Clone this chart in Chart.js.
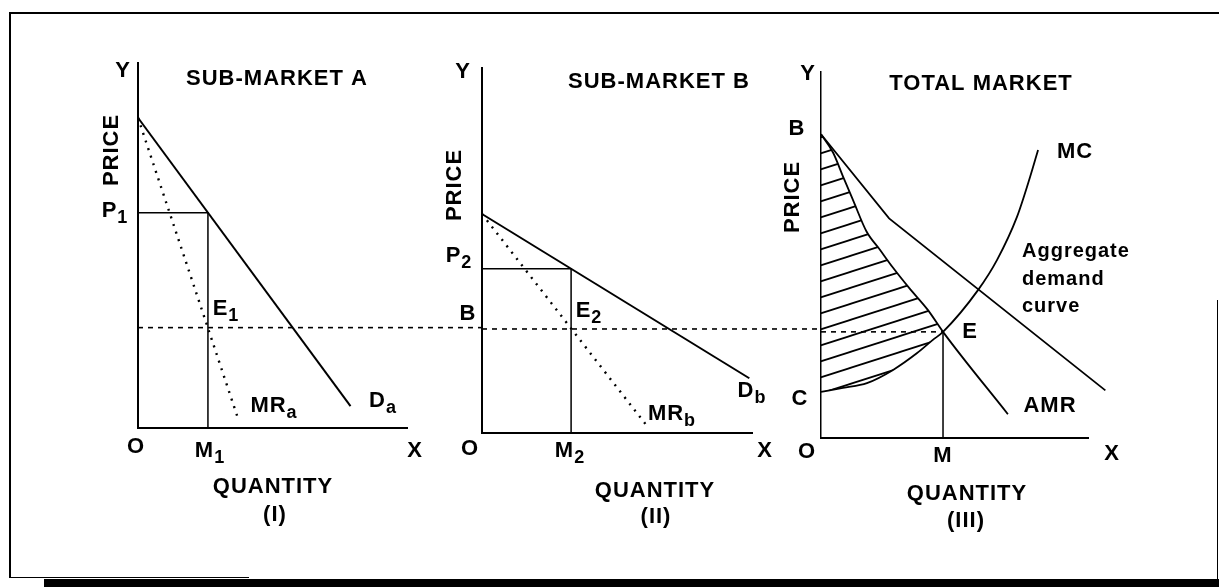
<!DOCTYPE html>
<html lang="en">
<head>
<meta charset="UTF-8">
<title>Price discrimination: sub-markets and total market</title>
<script src="https://cdn.jsdelivr.net/npm/chart.js@4/dist/chart.umd.min.js"></script>
<style>
  html, body { margin: 0; padding: 0; background: #fff; }
  body { width: 1219px; height: 587px; position: relative; overflow: hidden; }
  canvas { position: absolute; left: 0; top: 0; }
  .rule { position: absolute; background: #000; }
</style>
</head>
<body>
<!-- scanned page frame -->
<div class="rule" style="left:9px; top:12px; width:1210px; height:2px"></div>
<div class="rule" style="left:9px; top:12px; width:2px; height:566px"></div>
<div class="rule" style="left:9px; top:577px; width:240px; height:1px"></div>
<div class="rule" style="left:1217px; top:300px; width:1px; height:280px"></div>
<div class="rule" style="left:44px; top:579px; width:1175px; height:8px"></div>

<canvas id="panelA" width="1219" height="587"></canvas>
<canvas id="panelB" width="1219" height="587"></canvas>
<canvas id="panelT" width="1219" height="587"></canvas>

<script>
// ---- data (axis units 0..10 on both axes of every panel) ----

// (I) sub-market A
const demandA = [[0, 8.5], [7.9, 0.6]];
const mrA = [[0, 8.5], [3.7, 0.3]];
const priceA = 5.9;      // P1
const qtyA = 2.6;        // M1
const mcLevelA = 2.75;   // E1

// (II) sub-market B
const demandB = [[0, 6.0], [9.9, 1.5]];
const mrB = [[0, 6.0], [6.05, 0.25]];
const priceB = 4.5;      // P2
const qtyB = 3.3;        // M2
const mcLevelB = 2.85;   // E2 / B

// (III) total market
const aggDemand = [[0, 8.3], [2.55, 6.0], [10.65, 1.3]];
const amr = [[0, 8.3], [0.45, 7.8], [0.85, 7.1], [1.2, 6.5], [1.7, 5.65], [2.2, 5.15],
             [2.7, 4.65], [3.3, 4.1], [4.0, 3.5], [4.57, 2.9], [7.0, 0.65]];
const mc = [[0, 1.26], [0.82, 1.37], [1.72, 1.5], [2.7, 1.86], [3.6, 2.32], [4.19, 2.68],
            [4.57, 2.9], [5.88, 4.04], [6.59, 4.86], [7.34, 6.04], [7.83, 7.13], [8.13, 7.87]];
const qtyTotal = 4.57;   // M
const mcLevel = 2.9;     // E

// ---- drawing ----
const W = 1219, H = 587;
const FONT = '"Liberation Sans", Arial, Helvetica, sans-serif';

// plain text labels, placed in px relative to the panel origin O
const textPlugin = {
  id: 'sketchText',
  afterDatasetsDraw(chart, args, opts) {
    const { ctx, chartArea } = chart;
    const ox = chartArea.left, oy = chartArea.bottom;
    ctx.save();
    ctx.fillStyle = '#000';
    ctx.letterSpacing = '1px';
    for (const t of opts.items || []) {
      const x = ox + t.dx, y = oy + t.dy;
      const main = 'bold ' + (t.size || 22) + 'px ' + FONT;
      const small = 'bold 18px ' + FONT;
      ctx.font = main;
      if (t.rotate) {
        ctx.save();
        ctx.translate(x, y);
        ctx.rotate(-Math.PI / 2);
        ctx.textAlign = 'center';
        ctx.textBaseline = 'middle';
        ctx.fillText(t.text, 0, 0);
        ctx.restore();
        continue;
      }
      ctx.textAlign = 'left';
      ctx.textBaseline = 'alphabetic';
      const mainW = ctx.measureText(t.text).width;
      let subW = 0;
      if (t.sub) {
        ctx.font = small;
        subW = ctx.measureText(t.sub).width;
      }
      const left = t.align === 'left' ? x : x - (mainW + subW) / 2;
      ctx.font = main;
      ctx.fillText(t.text, left, y);
      if (t.sub) {
        ctx.font = small;
        ctx.fillText(t.sub, left + mainW, y + 6);
      }
    }
    ctx.restore();
  }
};

function axis(width) {
  return {
    type: 'linear', min: 0, max: 10,
    ticks: { display: false },
    grid: { display: false, drawTicks: false },
    border: { display: true, color: '#000', width: width }
  };
}

function line(pts, extra) {
  return Object.assign({
    data: pts.map(([x, y]) => ({ x, y })),
    showLine: true,
    borderColor: '#000',
    borderWidth: 2,
    pointRadius: 0,
    fill: false,
    clip: false
  }, extra || {});
}

const dotted = { borderWidth: 2.4, borderDash: [2, 6] };
const dashed = { borderWidth: 1.6, borderDash: [5, 5] };
const guide = { borderWidth: 1.5 };

function hatchPattern() {
  const c = document.createElement('canvas');
  c.width = 50; c.height = 16;
  const g = c.getContext('2d');
  g.strokeStyle = '#000';
  g.lineWidth = 1.8;
  for (const off of [-16, 0, 16]) {
    g.beginPath();
    g.moveTo(-50, 32 + off);
    g.lineTo(100, -16 + off);
    g.stroke();
  }
  return g.createPattern(c, 'repeat');
}

function panel(id, area, yBorder, datasets, labels) {
  return new Chart(document.getElementById(id), {
    type: 'scatter',
    data: { datasets: datasets },
    options: {
      responsive: false,
      animation: false,
      events: [],
      layout: { padding: { left: area.left, top: area.top, right: W - area.right, bottom: H - area.bottom } },
      scales: { x: axis(2), y: axis(yBorder) },
      plugins: {
        legend: { display: false },
        tooltip: { enabled: false },
        sketchText: { items: labels }
      }
    },
    plugins: [textPlugin]
  });
}

// (I) SUB-MARKET A
panel('panelA', { left: 138, top: 63, right: 407, bottom: 428 }, 2, [
  line(demandA),
  line(mrA, dotted),
  line([[0, priceA], [qtyA, priceA], [qtyA, 0]], guide),
  line([[0, mcLevelA], [12.8, mcLevelA]], dashed)
], [
  { text: 'Y', dx: -15, dy: -351 },
  { text: 'SUB-MARKET A', dx: 139, dy: -343 },
  { text: 'PRICE', dx: -26, dy: -278, rotate: true },
  { text: 'P', sub: '1', dx: -23, dy: -211 },
  { text: 'E', sub: '1', dx: 88, dy: -113 },
  { text: 'MR', sub: 'a', dx: 136, dy: -16 },
  { text: 'D', sub: 'a', dx: 245, dy: -21 },
  { text: 'O', dx: -2, dy: 25 },
  { text: 'M', sub: '1', dx: 72, dy: 29 },
  { text: 'X', dx: 277, dy: 29 },
  { text: 'QUANTITY', dx: 135, dy: 65 },
  { text: '(I)', dx: 137, dy: 93 }
]);

// (II) SUB-MARKET B
panel('panelB', { left: 482, top: 68, right: 752, bottom: 433 }, 2, [
  line(demandB),
  line(mrB, dotted),
  line([[0, priceB], [qtyB, priceB], [qtyB, 0]], guide),
  line([[0, mcLevelB], [12.6, mcLevelB]], dashed)
], [
  { text: 'Y', dx: -19, dy: -355 },
  { text: 'SUB-MARKET B', dx: 177, dy: -345 },
  { text: 'PRICE', dx: -27, dy: -248, rotate: true },
  { text: 'P', sub: '2', dx: -23, dy: -171 },
  { text: 'B', dx: -14, dy: -113 },
  { text: 'E', sub: '2', dx: 107, dy: -116 },
  { text: 'MR', sub: 'b', dx: 190, dy: -13 },
  { text: 'D', sub: 'b', dx: 270, dy: -36 },
  { text: 'O', dx: -12, dy: 22 },
  { text: 'M', sub: '2', dx: 88, dy: 24 },
  { text: 'X', dx: 283, dy: 24 },
  { text: 'QUANTITY', dx: 173, dy: 64 },
  { text: '(II)', dx: 174, dy: 90 }
]);

// (III) TOTAL MARKET
panel('panelT', { left: 821, top: 72, right: 1088, bottom: 438 }, 1.5, [
  line(aggDemand, { borderWidth: 1.8 }),
  line(amr, {
    borderWidth: 1.8,
    cubicInterpolationMode: 'monotone',
    fill: { target: 2, above: hatchPattern(), below: 'rgba(0,0,0,0)' }
  }),
  line(mc, { borderWidth: 1.8, cubicInterpolationMode: 'monotone' }),
  line([[qtyTotal, mcLevel], [qtyTotal, 0]], guide),
  line([[0, mcLevel], [qtyTotal, mcLevel]], dashed)
], [
  { text: 'Y', dx: -13, dy: -358 },
  { text: 'TOTAL MARKET', dx: 160, dy: -348 },
  { text: 'B', dx: -24, dy: -303 },
  { text: 'PRICE', dx: -28, dy: -241, rotate: true },
  { text: 'MC', dx: 254, dy: -280 },
  { text: 'Aggregate', dx: 201, dy: -181, align: 'left', size: 20 },
  { text: 'demand', dx: 201, dy: -153, align: 'left', size: 20 },
  { text: 'curve', dx: 201, dy: -126, align: 'left', size: 20 },
  { text: 'E', dx: 149, dy: -100 },
  { text: 'AMR', dx: 229, dy: -26 },
  { text: 'C', dx: -21, dy: -33 },
  { text: 'O', dx: -14, dy: 20 },
  { text: 'M', dx: 122, dy: 24 },
  { text: 'X', dx: 291, dy: 22 },
  { text: 'QUANTITY', dx: 146, dy: 62 },
  { text: '(III)', dx: 145, dy: 89 }
]);
</script>
</body>
</html>
